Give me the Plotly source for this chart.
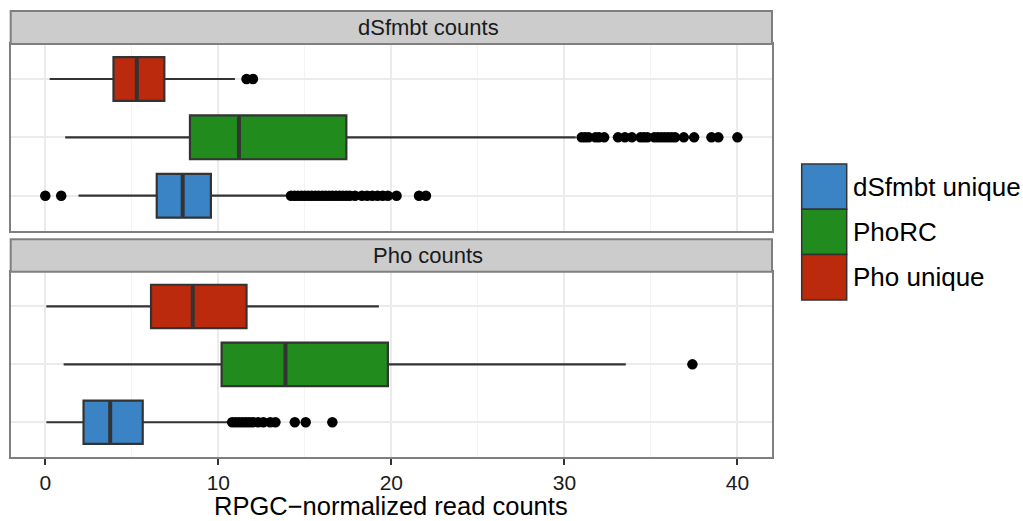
import plotly.graph_objects as go

# ---------------- data ----------------
panels = ["dSfmbt counts", "Pho counts"]
categories = ["dSfmbt unique", "PhoRC", "Pho unique"]
colors = ["#3A84C6", "#228B1E", "#BB2A0C"]

# per panel, per category (order as categories)
lowerfence = {"dSfmbt counts": [1.92, 1.15, 0.25], "Pho counts": [0.06, 1.06, 0.06]}
q1 = {"dSfmbt counts": [6.44, 8.36, 3.94], "Pho counts": [2.21, 10.19, 6.11]}
median = {"dSfmbt counts": [7.94, 11.19, 5.29], "Pho counts": [3.75, 13.88, 8.52]}
q3 = {"dSfmbt counts": [9.57, 17.40, 6.88], "Pho counts": [5.63, 19.80, 11.63]}
upperfence = {"dSfmbt counts": [14.13, 30.66, 10.96], "Pho counts": [10.67, 33.55, 19.28]}

outliers = {
    "dSfmbt counts": [
        [0.0, 0.92, 14.2, 14.4, 14.6, 14.8, 15.0, 15.2, 15.4, 15.6, 15.8, 16.0, 16.2,
         16.4, 16.6, 16.8, 17.0, 17.2, 17.4, 17.6, 17.9, 18.3, 18.6, 18.9, 19.2,
         19.5, 19.8, 20.3, 21.6, 22.0],
        [31.0, 31.2, 31.4, 31.8, 32.0, 32.3, 33.1, 33.5, 33.9, 34.4, 34.6, 34.8,
         35.2, 35.4, 35.6, 35.8, 36.0, 36.2, 36.4, 36.9, 37.5, 38.5, 38.9, 40.0],
        [11.63, 12.0],
    ],
    "Pho counts": [
        [10.8, 11.0, 11.2, 11.4, 11.6, 11.8, 12.0, 12.3, 12.6, 13.0, 13.3, 14.42, 15.05, 16.59],
        [37.4],
        [],
    ],
}

x_ticks = [0, 10, 20, 30, 40]
x_minor = [5, 15, 25, 35]
x_title = "RPGC\u2212normalized read counts"

# ---------------- layout helpers ----------------
W, H = 1023, 521
FONT = "Liberation Sans, Arial, Helvetica, sans-serif"


def px(x):
    return x / W


def py(y):
    return 1 - y / H


panel_left, panel_right = 10.7, 772
strip_text_x = 428
panel_boxes = {
    "dSfmbt counts": dict(strip=(11, 44), panel=(44, 230.7), xa="x2", ya="y2"),
    "Pho counts": dict(strip=(239.3, 271.7), panel=(271.7, 457), xa="x", ya="y"),
}
box_w = 0.75

fig = go.Figure()

for p in panels:
    info = panel_boxes[p]
    for i, c in enumerate(categories):
        pos = i + 1
        fig.add_trace(go.Box(
            orientation="h", y=[pos],
            q1=[q1[p][i]], median=[median[p][i]], q3=[q3[p][i]],
            lowerfence=[lowerfence[p][i]], upperfence=[upperfence[p][i]],
            width=box_w, fillcolor=colors[i],
            line=dict(color="#333333", width=2.2), whiskerwidth=0,
            boxpoints=False, showlegend=False, hoverinfo="skip",
            xaxis=info["xa"], yaxis=info["ya"],
        ))
        # thicker median line as in ggplot
        fig.add_trace(go.Scatter(
            x=[median[p][i], median[p][i]],
            y=[pos - box_w / 2 + 0.02, pos + box_w / 2 - 0.02],
            mode="lines", line=dict(color="#333333", width=4),
            showlegend=False, hoverinfo="skip",
            xaxis=info["xa"], yaxis=info["ya"],
        ))
        if outliers[p][i]:
            fig.add_trace(go.Scatter(
                x=outliers[p][i], y=[pos] * len(outliers[p][i]),
                mode="markers", marker=dict(color="black", size=10.5),
                showlegend=False, hoverinfo="skip",
                xaxis=info["xa"], yaxis=info["ya"],
            ))

common_x = dict(
    range=[-2, 42], tickvals=x_ticks, showgrid=True, gridcolor="#EBEBEB", gridwidth=1.5,
    minor=dict(tickvals=x_minor, showgrid=True, gridcolor="#F4F4F4", gridwidth=1),
    showline=True, linecolor="#7F7F7F", linewidth=2, mirror=True, zeroline=False,
    domain=[px(panel_left), px(panel_right)],
)
common_y = dict(
    range=[0.4, 3.6], tickvals=[1, 2, 3], showticklabels=False, ticks="",
    showgrid=True, gridcolor="#EBEBEB", gridwidth=1.5,
    showline=True, linecolor="#7F7F7F", linewidth=2, mirror=True, zeroline=False,
)

bot = panel_boxes["Pho counts"]["panel"]
top = panel_boxes["dSfmbt counts"]["panel"]

fig.update_layout(
    width=W, height=H,
    margin=dict(l=0, r=0, t=0, b=0),
    paper_bgcolor="white", plot_bgcolor="white",
    font=dict(family=FONT, color="black"),
    showlegend=False,
    xaxis=dict(**common_x, anchor="y", ticks="outside", ticklen=6, tickwidth=2,
               tickcolor="#333333", tickfont=dict(size=21, color="#1A1A1A", family=FONT)),
    yaxis=dict(**common_y, anchor="x", domain=[py(bot[1]), py(bot[0])]),
    xaxis2=dict(**common_x, anchor="y2", matches="x", showticklabels=False, ticks=""),
    yaxis2=dict(**common_y, anchor="x2", domain=[py(top[1]), py(top[0])]),
)

shapes = []
annotations = []
for p in panels:
    s0, s1 = panel_boxes[p]["strip"]
    shapes.append(dict(type="rect", xref="paper", yref="paper",
                       x0=px(panel_left), x1=px(panel_right), y0=py(s1), y1=py(s0),
                       fillcolor="#CCCCCC", line=dict(color="#7F7F7F", width=2), layer="above"))
    annotations.append(dict(xref="paper", yref="paper", x=px(strip_text_x),
                            y=py((s0 + s1) / 2), text=p, showarrow=False,
                            font=dict(size=22, color="#1A1A1A", family=FONT),
                            xanchor="center", yanchor="middle"))

# legend (drawn manually, ggplot style)
key_x0, key_x1 = 801.7, 846.7
key_top, key_h = 164, 45.3
for i, c in enumerate(categories):
    y0 = key_top + i * key_h
    shapes.append(dict(type="rect", xref="paper", yref="paper",
                       x0=px(key_x0), x1=px(key_x1), y0=py(y0 + key_h), y1=py(y0),
                       fillcolor=colors[i], line=dict(color="#333333", width=1.5)))
    annotations.append(dict(xref="paper", yref="paper", x=px(851), y=py(y0 + key_h / 2),
                            text=c, showarrow=False, xanchor="left", yanchor="middle",
                            font=dict(size=26, color="black", family=FONT)))

annotations.append(dict(xref="paper", yref="paper", x=px((panel_left + panel_right) / 2),
                        y=py(505.5), text=x_title, showarrow=False,
                        xanchor="center", yanchor="middle",
                        font=dict(size=25.5, color="black", family=FONT)))

fig.update_layout(shapes=shapes, annotations=annotations)

fig.write_html(
    "out.html",
    config={"displayModeBar": False},
    post_script="document.body.style.margin='0';document.body.style.overflow='hidden';",
)
